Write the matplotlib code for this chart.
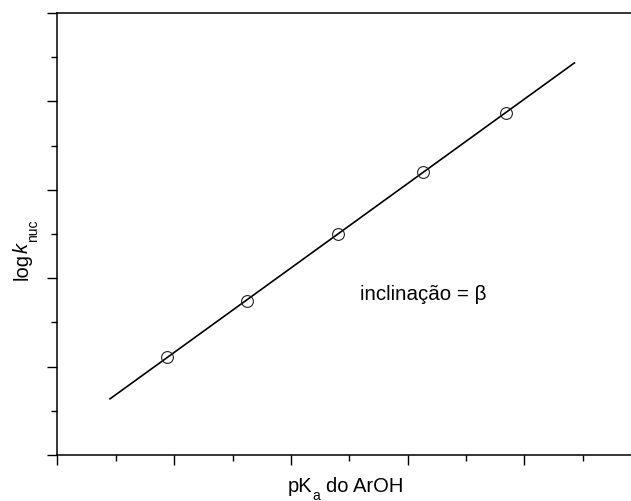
import numpy as np
import matplotlib
matplotlib.use('Agg')
import matplotlib.pyplot as plt
from matplotlib.ticker import MultipleLocator, NullFormatter

plt.rcParams['font.family'] = ['Liberation Sans', 'DejaVu Sans']

W, H = 631, 502

# pKa of the phenols vs log k_nuc (arbitrary units, no tick labels)
pka = [0.94, 1.62, 2.40, 3.13, 3.84]
logk = [1.11, 1.74, 2.50, 3.20, 3.87]
fit_range = [0.45, 4.43]

slope, intercept = np.polyfit(pka, logk, 1)
fx = np.array(fit_range)
fy = slope * fx + intercept

fig = plt.figure(figsize=(W / 100, H / 100), dpi=100)
ax = fig.add_axes([0.0911, 0.0916, 0.9247, 0.8805])

ax.plot(fx, fy, color='black', linewidth=1.2, zorder=2)
ax.plot(pka, logk, linestyle='none', marker='o', markersize=8.5,
        markerfacecolor='none', markeredgecolor='#222222',
        markeredgewidth=0.8, zorder=3)

ax.set_xlim(0, 5)
ax.set_ylim(0, 5)
ax.xaxis.set_major_locator(MultipleLocator(1))
ax.xaxis.set_minor_locator(MultipleLocator(0.5))
ax.yaxis.set_major_locator(MultipleLocator(1))
ax.yaxis.set_minor_locator(MultipleLocator(0.5))
ax.xaxis.set_major_formatter(NullFormatter())
ax.yaxis.set_major_formatter(NullFormatter())
ax.tick_params(which='major', direction='out', length=7.2, width=1.0)
ax.tick_params(which='minor', direction='out', length=4, width=1.0)
for sp in ax.spines.values():
    sp.set_linewidth(1.1)

ax.text(2.59, 1.76, 'inclinação = β', fontsize=14.8, va='baseline', ha='left')

# axis labels built piece by piece so the subscripts sit low like the original
renderer = fig.canvas.get_renderer()


def put(x, y, s, size, rot=0, style='normal'):
    t = fig.text(x / W, 1 - y / H, s, fontsize=size, fontstyle=style,
                 ha='left', va='baseline', rotation=rot, rotation_mode='anchor')
    bb = t.get_window_extent(renderer)
    return bb.width if rot == 0 else bb.height


x0 = 288
x0 += put(x0, 492, 'pK', 14.5)
x0 += put(x0, 500, 'a', 10)
put(x0 + 6, 492, 'do ArOH', 14.5)

y0 = 280
y0 -= put(28, y0, 'log', 14.5, rot=90)
y0 -= put(28, y0, 'k', 14.5, rot=90, style='italic')
put(37, y0 - 1, 'nuc', 10, rot=90)

fig.savefig('out.png', dpi=100)
